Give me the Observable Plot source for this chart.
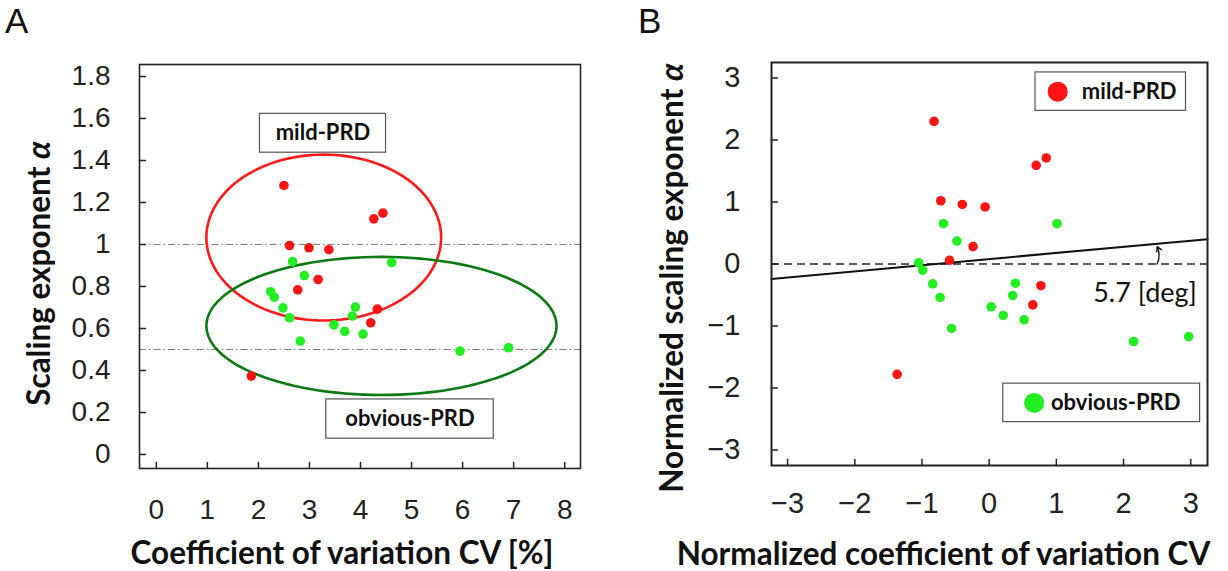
<!DOCTYPE html>
<html><head><meta charset="utf-8">
<script src="https://cdn.jsdelivr.net/npm/d3@7"></script>
<script src="https://cdn.jsdelivr.net/npm/@observablehq/plot@0.6"></script>
<style>
body{margin:0;background:#fff;}
#wrap{position:relative;width:1228px;height:571px;overflow:hidden;background:#fff;font-family:"Liberation Sans",Arial,sans-serif;}
.panel{position:absolute;top:0;}
.letter{position:absolute;top:0px;font-size:35px;line-height:1;color:#111;}
</style></head><body>
<div id="wrap">
  <div class="panel" id="pa" style="left:0"></div>
  <div class="panel" id="pb" style="left:614px"></div>
  <div class="letter" style="left:5px;top:3px">A</div>
  <div class="letter" style="left:638px;top:3px">B</div>
</div>
<script>
// ---------- data ----------
const groups = ["mild-PRD", "obvious-PRD"];
// Panel A: raw values
const mildCV      = [2.50, 4.26, 4.44, 2.61, 2.99, 3.38, 3.17, 2.77, 4.33, 4.20, 1.86];
const mildAlpha   = [1.281, 1.122, 1.149, 0.995, 0.984, 0.975, 0.833, 0.784, 0.692, 0.627, 0.373];
const obviousCV    = [2.67, 4.61, 2.90, 2.24, 2.31, 2.48, 2.61, 3.90, 3.84, 3.48, 3.69, 4.05, 2.82, 5.95, 6.90];
const obviousAlpha = [0.918, 0.914, 0.852, 0.775, 0.749, 0.698, 0.651, 0.702, 0.659, 0.617, 0.586, 0.573, 0.540, 0.492, 0.508];
// Panel B: normalized values
const mildNormCV      = [-0.82, 0.85, 0.70, -0.72, -0.40, -0.06, -0.24, -0.59, 0.77, 0.65, -1.37];
const mildNormAlpha   = [2.30, 1.71, 1.59, 1.02, 0.96, 0.92, 0.28, 0.06, -0.35, -0.66, -1.78];
const obviousNormCV    = [-0.68, 1.01, -0.48, -1.05, -0.99, -0.84, -0.73, 0.39, 0.35, 0.03, 0.21, 0.52, -0.56, 2.15, 2.97];
const obviousNormAlpha = [0.65, 0.65, 0.37, 0.02, -0.10, -0.32, -0.54, -0.31, -0.51, -0.69, -0.83, -0.90, -1.04, -1.25, -1.17];
// reference lines / fit
const refLinesA = [1, 0.5];
const regressionB = [{x: -3.24, y: -0.24}, {x: 3.25, y: 0.40}];
const angleLabel = "5.7 [deg]";
// group ellipses (center, radii) in panel A
const ellipsesA = [
  {group: "mild-PRD", cx: 3.28, cy: 1.033, rx: 2.30, ry: 0.395},
  {group: "obvious-PRD", cx: 4.41, cy: 0.612, rx: 3.43, ry: 0.329}
];
// tick labels
const xTicksA = [0, 1, 2, 3, 4, 5, 6, 7, 8];
const yTicksA = [0, 0.2, 0.4, 0.6, 0.8, 1, 1.2, 1.4, 1.6, 1.8];
const ticksB = [-3, -2, -1, 0, 1, 2, 3];
// axis titles
const xTitleA = "Coefficient of variation CV [%]";
const yTitleA = "Scaling exponent α";
const xTitleB = "Normalized coefficient of variation CV";
const yTitleB = "Normalized scaling exponent α";

// ---------- styling ----------
const colors = {"mild-PRD": "#ff1414", "obvious-PRD": "#22ee22"};
const ellipseColors = {"mild-PRD": "#ff1a1a", "obvious-PRD": "#0b7a12"};
const tickFont = "Liberation Sans, Arial, sans-serif";
const titleFont = "Lato, 'Open Sans', sans-serif";
const titleSize = 31.5;
const tickShape = {draw(ctx, l) { ctx.moveTo(0, 0); ctx.lineTo(0, -l); }};
const fmtB = d => d < 0 ? "\u2212" + Math.abs(d) : String(d);

// ---------- tables ----------
const ptsA = [
  ...d3.zip(mildCV, mildAlpha).map(([x, y]) => ({x, y, g: groups[0]})),
  ...d3.zip(obviousCV, obviousAlpha).map(([x, y]) => ({x, y, g: groups[1]}))
];
const ptsB = [
  ...d3.zip(mildNormCV, mildNormAlpha).map(([x, y]) => ({x, y, g: groups[0]})),
  ...d3.zip(obviousNormCV, obviousNormAlpha).map(([x, y]) => ({x, y, g: groups[1]}))
];
const ellipsePts = ellipsesA.flatMap(e => d3.range(0, 361, 3).map(t => ({
  g: e.group, x: e.cx + e.rx * Math.cos(t * Math.PI / 180), y: e.cy + e.ry * Math.sin(t * Math.PI / 180)
})));
// annotation boxes (data units)
const boxesA = [
  {label: "mild-PRD", x1: 2.03, x2: 4.50, y1: 1.437, y2: 1.622},
  {label: "obvious-PRD", x1: 3.33, x2: 6.61, y1: 0.075, y2: 0.262}
];
const legendB = [
  {label: "mild-PRD", x1: 0.69, x2: 2.93, y1: 2.47, y2: 3.09, dx: 1.02, tx: 1.38},
  {label: "obvious-PRD", x1: 0.21, x2: 3.14, y1: -2.55, y2: -1.93, dx: 0.67, tx: 0.92}
];

function italicAlpha(svg) {
  svg.querySelectorAll("text").forEach(t => {
    if (t.children.length === 0 && t.textContent.endsWith("α")) {
      t.textContent = t.textContent.slice(0, -1);
      const ts = document.createElementNS("http://www.w3.org/2000/svg", "tspan");
      ts.setAttribute("font-style", "italic");
      ts.textContent = "α";
      t.appendChild(ts);
    }
  });
}

const plotA = Plot.plot({
  width: 614, height: 571,
  marginLeft: 139, marginRight: 34, marginTop: 64, marginBottom: 103,
  x: {domain: [-0.33, 8.31]},
  y: {domain: [-0.067, 1.857]},
  style: {background: "white", overflow: "visible"},
  marks: [
    Plot.ruleY(refLinesA, {y: d => d, stroke: "#777", strokeWidth: 1, strokeDasharray: "7,3,1.5,3"}),
    Plot.line(ellipsePts, {x: "x", y: "y", z: "g", stroke: d => ellipseColors[d.g], strokeWidth: 2.6}),
    Plot.dot(ptsA, {x: "x", y: "y", r: 4.8, fill: d => colors[d.g]}),
    Plot.rect(boxesA, {x1: "x1", x2: "x2", y1: "y1", y2: "y2", fill: "white", stroke: "#555", strokeWidth: 1.2}),
    Plot.text(boxesA, {x: d => (d.x1 + d.x2) / 2, y: d => (d.y1 + d.y2) / 2, text: "label",
      fontFamily: titleFont, fontWeight: "bold", fontSize: 22, fill: "#111"}),
    Plot.frame({stroke: "#222", strokeWidth: 1.6}),
    Plot.vectorX(xTicksA, {x: d => d, frameAnchor: "bottom", length: 6, rotate: 0, anchor: "start", shape: tickShape, stroke: "#222"}),
    Plot.vectorY(yTicksA, {y: d => d, frameAnchor: "left", length: 6, rotate: 90, anchor: "start", shape: tickShape, stroke: "#222"}),
    Plot.axisX(xTicksA, {anchor: "bottom", tickSize: 0, tickPadding: 31, fontSize: 28, fontFamily: tickFont, fill: "#222", label: null, tickFormat: d => String(d)}),
    Plot.axisY(yTicksA, {anchor: "left", tickSize: 0, tickPadding: 29, fontSize: 28, fontFamily: tickFont, fill: "#222", label: null, tickFormat: d => String(d)}),
    Plot.text([xTitleA], {text: d => d, frameAnchor: "bottom", textAnchor: "middle", lineAnchor: "bottom", dy: 95, dx: -18,
      fontFamily: titleFont, fontWeight: "bold", fontSize: titleSize, fill: "#111"}),
    Plot.text([yTitleA], {text: d => d, frameAnchor: "left", textAnchor: "middle", lineAnchor: "middle", rotate: -90, dx: -100, dy: 7,
      fontFamily: titleFont, fontWeight: "bold", fontSize: titleSize, fill: "#111"})
  ]
});
italicAlpha(plotA);
document.getElementById("pa").appendChild(plotA);

const plotB = Plot.plot({
  width: 614, height: 571,
  marginLeft: 157, marginRight: 21, marginTop: 62, marginBottom: 106,
  x: {domain: [-3.24, 3.25]},
  y: {domain: [-3.25, 3.25]},
  style: {background: "white", overflow: "visible"},
  marks: [
    Plot.ruleY([0], {stroke: "#222", strokeWidth: 1.3, strokeDasharray: "8,5"}),
    Plot.line(regressionB, {x: "x", y: "y", stroke: "#111", strokeWidth: 2}),
    Plot.arrow([{x: 2.50, y1: 0.0, y2: 0.28}], {x1: "x", x2: "x", y1: "y1", y2: "y2", bend: -25, headLength: 6, stroke: "#111", strokeWidth: 1.3}),
    Plot.text([angleLabel], {text: d => d, x: 2.32, y: -0.48, fontFamily: titleFont, fontSize: 27, fill: "#111"}),
    Plot.dot(ptsB, {x: "x", y: "y", r: 4.8, fill: d => colors[d.g]}),
    Plot.rect(legendB, {x1: "x1", x2: "x2", y1: "y1", y2: "y2", fill: "white", stroke: "#555", strokeWidth: 1.2}),
    Plot.dot(legendB, {x: "dx", y: d => (d.y1 + d.y2) / 2, r: 10, fill: d => colors[d.label]}),
    Plot.text(legendB, {x: "tx", y: d => (d.y1 + d.y2) / 2, text: "label", textAnchor: "start",
      fontFamily: titleFont, fontWeight: "bold", fontSize: 22, fill: "#111"}),
    Plot.frame({stroke: "#222", strokeWidth: 2}),
    Plot.vectorX(ticksB, {x: d => d, frameAnchor: "bottom", length: 6, rotate: 0, anchor: "start", shape: tickShape, stroke: "#222"}),
    Plot.vectorY(ticksB, {y: d => d, frameAnchor: "left", length: 6, rotate: 90, anchor: "start", shape: tickShape, stroke: "#222"}),
    Plot.axisX(ticksB, {anchor: "bottom", tickSize: 0, tickPadding: 27, fontSize: 29, fontFamily: tickFont, fill: "#222", label: null, tickFormat: fmtB}),
    Plot.axisY(ticksB, {anchor: "left", tickSize: 0, tickPadding: 31, fontSize: 29, fontFamily: tickFont, fill: "#222", label: null, tickFormat: fmtB}),
    Plot.text([xTitleB], {text: d => d, frameAnchor: "bottom", textAnchor: "middle", lineAnchor: "bottom", dy: 99, dx: -46,
      fontFamily: titleFont, fontWeight: "bold", fontSize: titleSize, fill: "#111"}),
    Plot.text([yTitleB], {text: d => d, frameAnchor: "left", textAnchor: "middle", lineAnchor: "middle", rotate: -90, dx: -99, dy: 14,
      fontFamily: titleFont, fontWeight: "bold", fontSize: titleSize, fill: "#111"})
  ]
});
italicAlpha(plotB);
document.getElementById("pb").appendChild(plotB);
</script>
</body></html>
